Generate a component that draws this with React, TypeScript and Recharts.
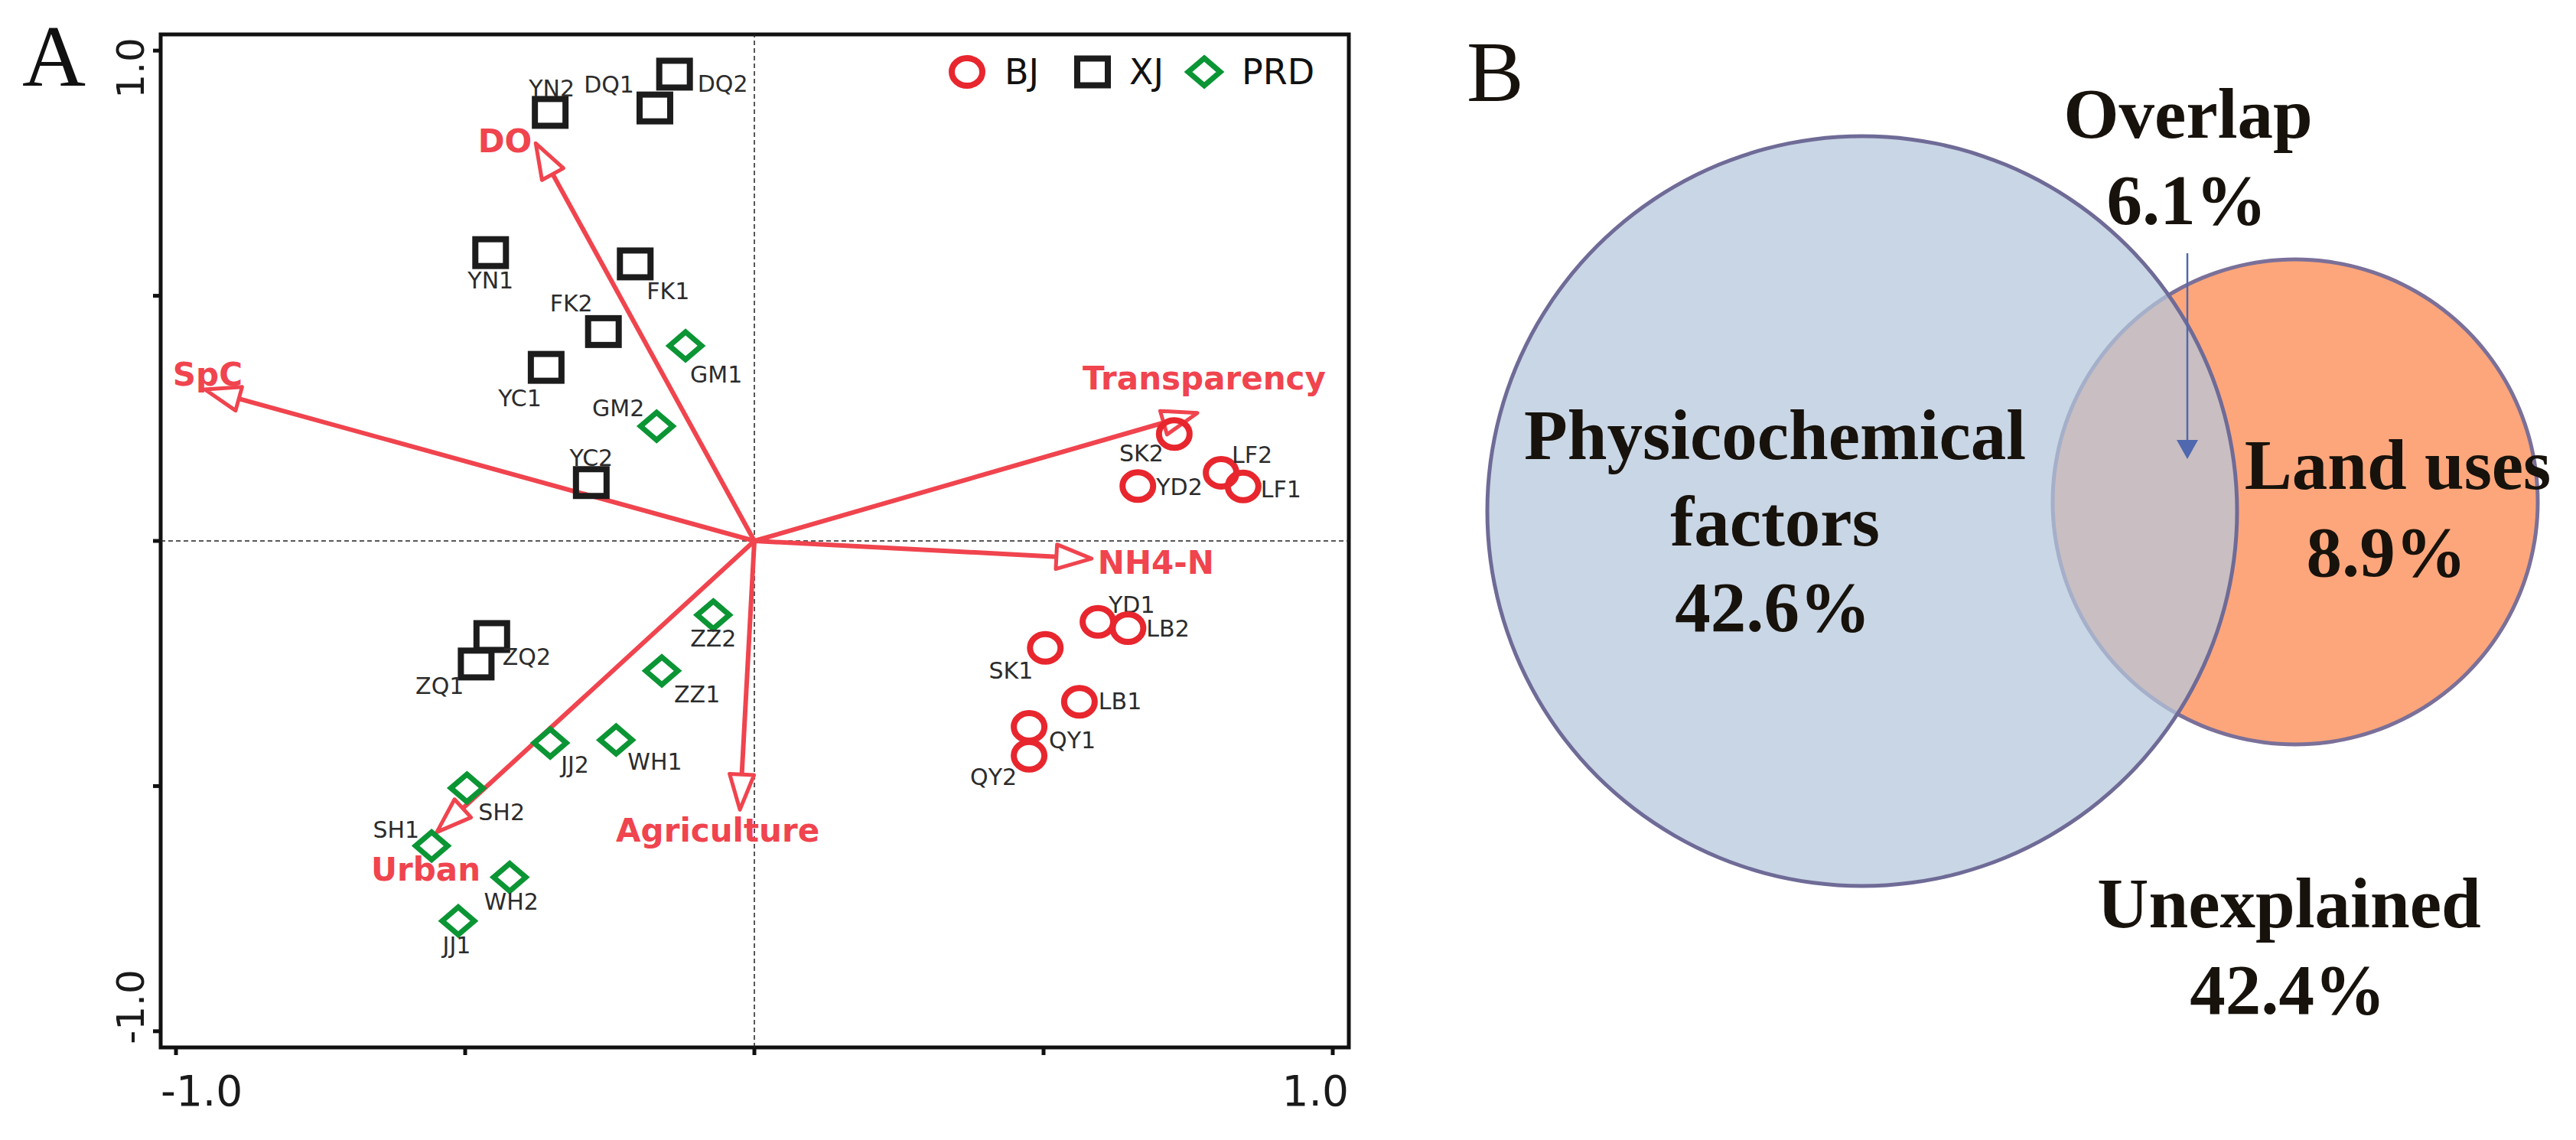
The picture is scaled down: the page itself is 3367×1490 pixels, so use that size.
import React from 'react';
import {
  ScatterChart,
  Scatter,
  XAxis,
  YAxis,
  ReferenceLine,
  ReferenceArea,
  Legend,
  Customized,
  PieChart,
  Pie,
} from 'recharts';

// ---------------- Panel A : RDA ordination data ----------------
const bjSites = [
  { site: 'SK2', rda1: 0.726, rda2: 0.218 },
  { site: 'YD2', rda1: 0.663, rda2: 0.112 },
  { site: 'LF2', rda1: 0.807, rda2: 0.139 },
  { site: 'LF1', rda1: 0.845, rda2: 0.111 },
  { site: 'YD1', rda1: 0.594, rda2: -0.165 },
  { site: 'LB2', rda1: 0.646, rda2: -0.178 },
  { site: 'SK1', rda1: 0.503, rda2: -0.218 },
  { site: 'LB1', rda1: 0.562, rda2: -0.328 },
  { site: 'QY1', rda1: 0.475, rda2: -0.379 },
  { site: 'QY2', rda1: 0.475, rda2: -0.438 },
];

const xjSites = [
  { site: 'YN2', rda1: -0.353, rda2: 0.874 },
  { site: 'DQ2', rda1: -0.138, rda2: 0.952 },
  { site: 'DQ1', rda1: -0.172, rda2: 0.883 },
  { site: 'YN1', rda1: -0.456, rda2: 0.588 },
  { site: 'FK1', rda1: -0.206, rda2: 0.565 },
  { site: 'FK2', rda1: -0.261, rda2: 0.427 },
  { site: 'YC1', rda1: -0.36, rda2: 0.354 },
  { site: 'YC2', rda1: -0.282, rda2: 0.119 },
  { site: 'ZQ2', rda1: -0.454, rda2: -0.195 },
  { site: 'ZQ1', rda1: -0.481, rda2: -0.251 },
];

const prdSites = [
  { site: 'GM1', rda1: -0.119, rda2: 0.398 },
  { site: 'GM2', rda1: -0.169, rda2: 0.234 },
  { site: 'ZZ2', rda1: -0.071, rda2: -0.151 },
  { site: 'ZZ1', rda1: -0.16, rda2: -0.265 },
  { site: 'JJ2', rda1: -0.353, rda2: -0.412 },
  { site: 'WH1', rda1: -0.239, rda2: -0.406 },
  { site: 'SH2', rda1: -0.497, rda2: -0.504 },
  { site: 'SH1', rda1: -0.558, rda2: -0.622 },
  { site: 'WH2', rda1: -0.423, rda2: -0.686 },
  { site: 'JJ1', rda1: -0.512, rda2: -0.775 },
];

const envVectors = [
  { name: 'SpC', rda1: -0.95, rda2: 0.309 },
  { name: 'DO', rda1: -0.378, rda2: 0.811 },
  { name: 'Transparency', rda1: 0.766, rda2: 0.261 },
  { name: 'NH4-N', rda1: 0.583, rda2: -0.036 },
  { name: 'Agriculture', rda1: -0.025, rda2: -0.548 },
  { name: 'Urban', rda1: -0.549, rda2: -0.594 },
];

const axisTicks = [-1, -0.5, 0, 0.5, 1];
const tickLabels: Record<string, string> = { '-1': '-1.0', '1': '1.0' };
const groupNames = ['BJ', 'XJ', 'PRD'];

// ---------------- Panel B : variation partitioning ----------------
const vennSets = [
  { name: 'Physicochemical factors', value: 42.6 },
  { name: 'Land uses', value: 8.9 },
];
const vennSetLines = [['Physicochemical', 'factors'], ['Land', 'uses']];
const vennOverlap = 6.1;
const vennUnexplained = 42.4;

// ---------------- styles / layout ----------------
const RED_MARK = '#e8262e';
const RED_ARROW = '#f0444e';
const GREEN = '#0b9534';
const BLACK = '#1c1c1c';
const SANS = "'DejaVu Sans', Verdana, sans-serif";
const SERIF = "'Liberation Serif', 'Times New Roman', serif";

// label offsets (px) relative to marker centre: [dx, dy(baseline), anchor]
const siteLabelPos: Record<string, [number, number, 'start' | 'middle' | 'end']> = {
  YN2: [2, -21, 'middle'],
  DQ1: [-27, -20, 'end'],
  DQ2: [30, 23, 'start'],
  YN1: [0, 47, 'middle'],
  FK1: [15, 46, 'start'],
  FK2: [-14, -26, 'end'],
  YC1: [-6, 51, 'end'],
  YC2: [0, -22, 'middle'],
  ZQ2: [14, 37, 'start'],
  ZQ1: [-16, 39, 'end'],
  GM1: [6, 48, 'start'],
  GM2: [-16, -13, 'end'],
  ZZ2: [0, 41, 'middle'],
  ZZ1: [16, 41, 'start'],
  JJ2: [14, 39, 'start'],
  WH1: [15, 39, 'start'],
  SH2: [15, 42, 'start'],
  SH1: [-16, -11, 'end'],
  WH2: [2, 42, 'middle'],
  JJ1: [-2, 42, 'middle'],
  SK2: [-14, 36, 'end'],
  YD2: [24, 12, 'start'],
  LF2: [14, -13, 'start'],
  LF1: [23, 14, 'start'],
  YD1: [14, -12, 'start'],
  LB2: [24, 11, 'start'],
  SK1: [-16, 40, 'end'],
  LB1: [25, 10, 'start'],
  QY1: [26, 28, 'start'],
  QY2: [-16, 38, 'end'],
};

// arrow label offsets relative to arrow tip
const vectorLabelPos: Record<string, [number, number, 'start' | 'middle' | 'end']> = {
  SpC: [-42, -5, 'start'],
  DO: [-5, 12, 'end'],
  Transparency: [-150, -31, 'start'],
  'NH4-N': [8, 20, 'start'],
  Agriculture: [-162, 42, 'start'],
  Urban: [-86, 63, 'start'],
};

const siteText = (cx: number, cy: number, site: string) => {
  const p = siteLabelPos[site] || [0, 40, 'middle'];
  return (
    <text x={cx + p[0]} y={cy + p[1]} textAnchor={p[2]} fontFamily={SANS} fontSize={30} fill="#2c2c2c">
      {site}
    </text>
  );
};

const circlePath = (cx: number, cy: number, color: string) => (
  <ellipse cx={cx} cy={cy} rx={20} ry={18} fill="none" stroke={color} strokeWidth={8} />
);
const squarePath = (cx: number, cy: number, color: string) => (
  <rect x={cx - 20} y={cy - 17.5} width={40} height={35} fill="none" stroke={color} strokeWidth={8} />
);
const diamondPath = (cx: number, cy: number, color: string) => (
  <polygon
    points={`${cx},${cy - 18} ${cx + 21},${cy} ${cx},${cy + 18} ${cx - 21},${cy}`}
    fill="none"
    stroke={color}
    strokeWidth={7}
  />
);

const CircleMark = (props: any) => {
  const { cx, cy, payload } = props;
  return (
    <g>
      {circlePath(cx, cy, RED_MARK)}
      {siteText(cx, cy, payload.site)}
    </g>
  );
};
const SquareMark = (props: any) => {
  const { cx, cy, payload } = props;
  return (
    <g>
      {squarePath(cx, cy, BLACK)}
      {siteText(cx, cy, payload.site)}
    </g>
  );
};
const DiamondMark = (props: any) => {
  const { cx, cy, payload } = props;
  return (
    <g>
      {diamondPath(cx, cy, GREEN)}
      {siteText(cx, cy, payload.site)}
    </g>
  );
};

const arrowShape = (name: string) => (props: any) => {
  const { x1, y1, x2, y2 } = props;
  const ang = Math.atan2(y2 - y1, x2 - x1);
  const L = 46;
  const W = 16;
  const ux = Math.cos(ang);
  const uy = Math.sin(ang);
  const bx = x2 - L * ux;
  const by = y2 - L * uy;
  const nx = -uy;
  const ny = ux;
  const pts = `${x2},${y2} ${bx + W * nx},${by + W * ny} ${bx - W * nx},${by - W * ny}`;
  const lp = vectorLabelPos[name] || [0, 0, 'start'];
  return (
    <g>
      <line x1={x1} y1={y1} x2={bx} y2={by} stroke={RED_ARROW} strokeWidth={6} />
      <polygon points={pts} fill="#fff" stroke={RED_ARROW} strokeWidth={5} strokeLinejoin="round" />
      <text
        x={x2 + lp[0]}
        y={y2 + lp[1]}
        textAnchor={lp[2]}
        fontFamily={SANS}
        fontWeight="bold"
        fontSize={42}
        fill={RED_ARROW}
      >
        {name}
      </text>
    </g>
  );
};

const XTick = (props: any) => {
  const { x, y, payload } = props;
  const label = tickLabels[String(payload.value)];
  if (!label) return <g />;
  const isMin = payload.value < 0;
  return (
    <text
      x={isMin ? x - 20 : x + 21}
      y={y + 66}
      textAnchor={isMin ? 'start' : 'end'}
      fontFamily={SANS}
      fontSize={55}
      fill="#1a1a1a"
    >
      {label}
    </text>
  );
};

const YTick = (props: any) => {
  const { x, y, payload } = props;
  const label = tickLabels[String(payload.value)];
  if (!label) return <g />;
  const isMin = payload.value < 0;
  const tx = x - 12;
  const ty = isMin ? y + 17 : y - 17;
  return (
    <text
      transform={`translate(${tx},${ty}) rotate(-90)`}
      textAnchor={isMin ? 'start' : 'end'}
      fontFamily={SANS}
      fontSize={50}
      fill="#1a1a1a"
    >
      {label}
    </text>
  );
};

const LegendContent = () => {
  const markers = [
    (cx: number, cy: number) => circlePath(cx, cy, RED_MARK),
    (cx: number, cy: number) => squarePath(cx, cy, BLACK),
    (cx: number, cy: number) => diamondPath(cx, cy, GREEN),
  ];
  const iconX = [39, 203, 349];
  const textX = [88, 251, 398];
  return (
    <svg width={540} height={90} style={{ display: 'block', overflow: 'visible' }}>
      {groupNames.map((g, i) => (
        <g key={g}>
          {markers[i](iconX[i], 40)}
          <text x={textX[i]} y={56} fontFamily={SANS} fontSize={46} fill="#111">
            {g}
          </text>
        </g>
      ))}
    </svg>
  );
};

const PanelLetterA = () => (
  <text x={29} y={112} fontFamily={SERIF} fontSize={115} fill="#111">
    A
  </text>
);

// ---------------- Venn layout ----------------
const BIG = { cx: 634, cy: 668, r: 490 };
const SMALL = { cx: 1200, cy: 656, r: 317 };

const renderVennText = () => {
  const fmt = (v: number) => `${v.toFixed(1)}%`;
  return (
    <g fontFamily={SERIF} fontWeight="bold" fontSize={93} fill="#17120c" stroke="none">
      <text x={117} y={132} fontWeight="normal" fontSize={112}>
        B
      </text>
      <text x={1060} y={180} textAnchor="middle">
        Overlap
      </text>
      <text x={1058} y={293} textAnchor="middle">
        {fmt(vennOverlap)}
      </text>
      <line x1={1059} y1={331} x2={1059} y2={580} stroke="#5068ae" strokeWidth={2.5} />
      <polygon points="1045,575 1073,575 1059,600" fill="#5068ae" />
      <text x={BIG.cx - 114} y={BIG.cy - 68} textAnchor="middle">
        {vennSetLines[0][0]}
      </text>
      <text x={BIG.cx - 114} y={BIG.cy + 45} textAnchor="middle">
        {vennSetLines[0][1]}
      </text>
      <text x={BIG.cx - 117} y={BIG.cy + 157} textAnchor="middle">
        {fmt(vennSets[0].value)}
      </text>
      <text x={SMALL.cx + 134} y={SMALL.cy - 17} textAnchor="middle">
        {vennSetLines[1].join(' ')}
      </text>
      <text x={SMALL.cx + 119} y={SMALL.cy + 97} textAnchor="middle">
        {fmt(vennSets[1].value)}
      </text>
      <text x={1192} y={1212} textAnchor="middle">
        Unexplained
      </text>
      <text x={1190} y={1325} textAnchor="middle">
        {fmt(vennUnexplained)}
      </text>
    </g>
  );
};

export default function App() {
  return (
    <div style={{ position: 'absolute', left: 0, top: 0, width: 3367, height: 1490, background: '#fff' }}>
      <div style={{ position: 'absolute', left: 0, top: 0 }}>
        <ScatterChart width={1800} height={1490} margin={{ top: 45, right: 37, bottom: 0, left: 0 }}>
          <XAxis
            type="number"
            dataKey="rda1"
            domain={[-1.0265, 1.0278]}
            allowDataOverflow
            ticks={axisTicks}
            interval={0}
            height={121}
            axisLine={false}
            tickLine={{ stroke: '#111', strokeWidth: 5 }}
            tickSize={10}
            tickMargin={0}
            tick={<XTick />}
          />
          <YAxis
            type="number"
            dataKey="rda2"
            domain={[-1.033, 1.033]}
            allowDataOverflow
            ticks={axisTicks}
            interval={0}
            width={210}
            axisLine={false}
            tickLine={{ stroke: '#111', strokeWidth: 5 }}
            tickSize={10}
            tickMargin={0}
            tick={<YTick />}
          />
          <ReferenceLine x={0} stroke="#222" strokeWidth={1.5} strokeDasharray="6 4" />
          <ReferenceLine y={0} stroke="#222" strokeWidth={1.5} strokeDasharray="6 4" />
          {envVectors.map((v) => (
            <ReferenceLine
              key={v.name}
              segment={[
                { x: 0, y: 0 },
                { x: v.rda1, y: v.rda2 },
              ]}
              ifOverflow="visible"
              shape={arrowShape(v.name)}
            />
          ))}
          <Scatter name="BJ" data={bjSites} fill={RED_MARK} shape={CircleMark} isAnimationActive={false} />
          <Scatter name="XJ" data={xjSites} fill={BLACK} shape={SquareMark} isAnimationActive={false} />
          <Scatter name="PRD" data={prdSites} fill={GREEN} shape={DiamondMark} isAnimationActive={false} />
          <ReferenceArea
            x1={-1.0265}
            x2={1.0278}
            y1={-1.033}
            y2={1.033}
            ifOverflow="visible"
            fill="none"
            fillOpacity={0}
            stroke="#111"
            strokeWidth={5}
          />
          <Legend
            layout="horizontal"
            verticalAlign="middle"
            align="center"
            wrapperStyle={{ position: 'absolute', top: 54, left: 1225, width: 540, height: 90 }}
            content={() => <LegendContent />}
          />
          <Customized component={PanelLetterA} />
        </ScatterChart>
      </div>
      <div style={{ position: 'absolute', left: 1800, top: 0 }}>
        <PieChart width={1567} height={1490} margin={{ top: 0, right: 0, bottom: 0, left: 0 }}>
          <Pie
            data={[vennSets[1]]}
            dataKey="value"
            nameKey="name"
            cx={SMALL.cx}
            cy={SMALL.cy}
            innerRadius={0}
            outerRadius={SMALL.r}
            fill="#fda67b"
            stroke="none"
            isAnimationActive={false}
          />
          <Pie
            data={[vennSets[1]]}
            dataKey="value"
            nameKey="name"
            cx={SMALL.cx}
            cy={SMALL.cy}
            innerRadius={SMALL.r - 2.5}
            outerRadius={SMALL.r + 2.5}
            fill="#7a7099"
            stroke="none"
            isAnimationActive={false}
          />
          <Pie
            data={[vennSets[0]]}
            dataKey="value"
            nameKey="name"
            cx={BIG.cx}
            cy={BIG.cy}
            innerRadius={0}
            outerRadius={BIG.r}
            fill="rgba(181,199,219,0.73)"
            stroke="none"
            isAnimationActive={false}
          />
          <Pie
            data={[vennSets[0]]}
            dataKey="value"
            nameKey="name"
            cx={BIG.cx}
            cy={BIG.cy}
            innerRadius={BIG.r - 2.5}
            outerRadius={BIG.r + 2.5}
            fill="#6f6b97"
            stroke="none"
            label={renderVennText}
            labelLine={false}
            isAnimationActive={false}
          />
        </PieChart>
      </div>
    </div>
  );
}
